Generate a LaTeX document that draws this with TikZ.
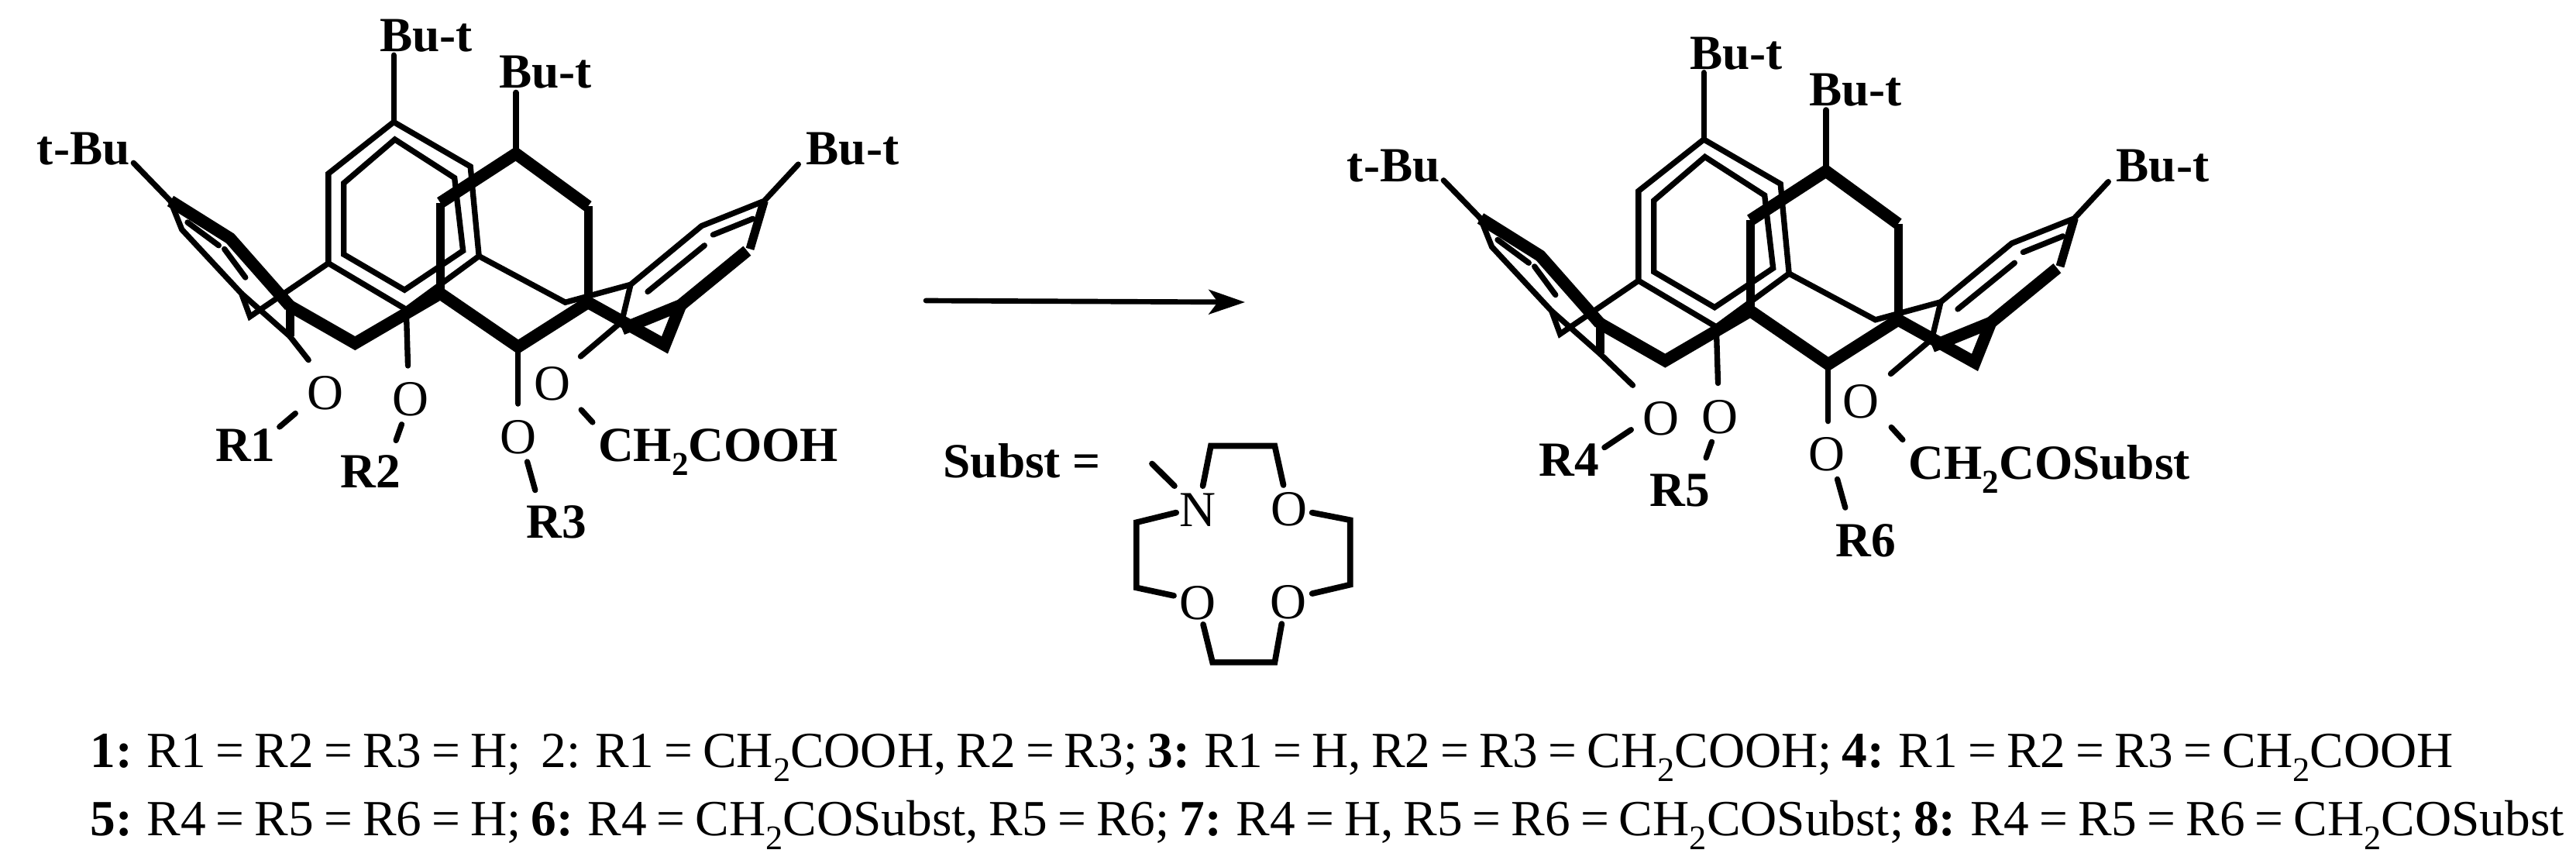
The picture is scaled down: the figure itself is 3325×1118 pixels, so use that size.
\documentclass[tikz,border=0pt]{standalone}
\usepackage{fontspec}
\setmainfont{Liberation Serif}
\usetikzlibrary{arrows.meta}
\newcommand{\subtwo}{\raisebox{-0.28em}{\scalebox{.68}{2}}}
\newcommand{\captfont}{\fontsize{19.6pt}{21pt}\selectfont\setlength{\spaceskip}{.2em}}
\tikzset{
  thinb/.style={line width=2.2pt,line cap=round,line join=miter},
  midb/.style={line width=3.3pt,line cap=butt,line join=miter},
  boldb/.style={line width=4.7pt,line cap=butt,line join=miter},
  lab/.style={font=\fontsize{19pt}{21pt}\selectfont\bfseries,inner sep=0pt,anchor=base},
  labw/.style={lab,anchor=base west},
  atom/.style={font=\fontsize{19.5pt}{21pt}\selectfont,inner sep=0pt,anchor=base},
  capt/.style={font=\captfont,inner sep=0pt,anchor=base west},
  mol/.style={x=0.22pt,y=-0.13774pt},
  crown/.style={line width=2.3pt,line cap=round,line join=miter},
}
\newcommand{\calix}{%
  \foreach \n/\x/\y in {
    a1/693/343,a2/578/488,a3/578/740,a4/715/870,a5/843/720,a6/828/468,
    i1/695/392,i2/605/515,i3/605/715,i4/712/815,i5/815/705,i6/800/500,
    at/693/155,
    b1/908/432,b2/775/570,b3/775/825,b4/912/975,b5/1035/850,b6/1035/580,bt/908/260,
    br1/625/965,br2/510/860,br3/1170/970,br4/1198/858,
    c1/1345/565,c2/1235/635,c3/1110/800,c4/1095/900,c5/1320/700,c6/1315/705,c7/1095/925,
    ci1/1255/660,ci2/1325/615,ci3/1240/690,ci4/1140/820,ct/1405/462,
    d0/995/850,d1/1090/910,
    e1/300/565,e2/320/645,e3/425/825,e4/440/890,e5/405/670,e6/510/945,
    ei1/330/625,ei2/385/690,ei3/395/700,ei4/432/780,et/235/458,
    f1/510/860,f2/510/945}
    \coordinate (\n) at (\x,\y);
  % back aryl ring
  \draw[thinb] (at) -- (a1);
  \draw[thinb] (a1) -- (a2) -- (a3) -- (a4) -- (a5) -- (a6) -- cycle;
  \draw[thinb] (i1) -- (i2) -- (i3) -- (i4) -- (i5) -- (i6) -- cycle;
  \draw[thinb] (a3) -- (e4) -- (e3) -- (e2) -- (e1) -- (et);
  \draw[thinb] (a5) -- (d0) -- (c3);
  % right aryl ring
  \draw[thinb] (ct) -- (c1) -- (c2) -- (c3) -- (c4);
  \draw[thinb] (ci1) -- (ci2);
  \draw[thinb] (ci3) -- (ci4);
  \draw[midb] (c1) -- (c5);
  \draw[boldb] (c6) -- (br4) -- (c7);
  \draw[boldb] (b5) -- (br3) -- (br4);
  % left aryl ring
  \draw[boldb] (e1) -- (e5) -- (f1);
  \draw[thinb] (ei1) -- (ei2);
  \draw[thinb] (ei3) -- (ei4);
  \draw[midb] (f1) -- (f2);
  \draw[thinb] (e3) -- (e6);
  % front ring and lower bridges
  \draw[thinb] (bt) -- (b1);
  \draw[boldb] (b2) -- (b1) -- (b6);
  \draw[midb] (b2) -- (b3);
  \draw[midb] (b6) -- (b5);
  \draw[boldb] (b3) -- (b4) -- (b5);
  \draw[boldb] (b3) -- (br1) -- (br2);
  % oxygen bonds
  \draw[thinb] (a4) -- (718,1028);
  \draw[thinb] (b4) -- (912,1135);
  \draw[thinb] (d1) -- (1022,1002);
  % stubs common to both molecules
  \draw[thinb] (707,1193) -- (697,1238);
  \draw[thinb] (928,1298) -- (942,1378);
  \draw[thinb] (1023,1152) -- (1043,1187);
  % labels
  \node[lab] (but1) at (750,145) {Bu-t};
  \node[lab] (but2) at (960,248) {Bu-t};
  \node[lab] (but3) at (147,462) {t-Bu};
  \node[labw] (but4) at (1418,462) {Bu-t};
}
\begin{document}
\begin{tikzpicture}[x=0.3pt,y=-0.3pt]
\useasboundingbox (0,0) rectangle (3325,1118);
% left molecule
\begin{scope}[mol,name prefix=L-]
  \calix
  \draw[thinb] (e6) -- (543,1012);
  \draw[thinb] (520,1162) -- (492,1200);
  \node[atom] (o1) at (572,1150) {O};
  \node[atom] (o2) at (723,1168) {O};
  \node[atom] (o3) at (912,1275) {O};
  \node[atom] (o4) at (972,1125) {O};
  \node[lab] (r1) at (432,1297) {R1};
  \node[lab] (r2) at (652,1370) {R2};
  \node[lab] (r3) at (980,1512) {R3};
  \node[labw] (ch) at (1052,1297) {CH\subtwo COOH};
\end{scope}
% right molecule
\begin{scope}[mol,shift={(507.3pt,-6.75pt)},name prefix=Q-]
  \calix
  \draw[thinb] (e6) -- (568,1034);
  \draw[thinb] (565,1159) -- (518,1209);
  \node[atom] (o1) at (618,1173) {O};
  \node[atom] (o2) at (721,1169) {O};
  \node[atom] (o3) at (910,1274) {O};
  \node[atom] (o4) at (970,1126) {O};
  \node[lab] (r4) at (456,1289) {R4};
  \node[lab] (r5) at (651,1374) {R5};
  \node[lab] (r6) at (978,1516) {R6};
  \node[labw] (ch) at (1053,1298) {CH\subtwo COSubst};
\end{scope}
% arrow
\coordinate (arrA) at (1195,388);
\coordinate (arrB) at (1607,390);
\draw[line width=2pt,line cap=round,-{Stealth[length=14pt,width=9.5pt,inset=3.5pt]}] (arrA) -- (arrB);
% crown substituent
\node[lab,anchor=base west] (subst) at (1217,616) {Subst =};
\begin{scope}[x=0.1339pt,y=-0.1148pt,shift={(345pt,-90pt)}]
  \node[atom] (N) at (888,992) {N};
  \node[atom] (Oa) at (1152,990) {O};
  \node[atom] (Ob) at (888,1305) {O};
  \node[atom] (Oc) at (1150,1303) {O};
  \draw[crown] (820,855) -- (755,780);
  \draw[crown] (902,855) -- (925,720) -- (1110,720) -- (1135,852);
  \draw[crown] (1218,945) -- (1328,970) -- (1328,1188) -- (1218,1218);
  \draw[crown] (1130,1320) -- (1110,1450) -- (930,1450) -- (903,1322);
  \draw[crown] (818,1225) -- (710,1198) -- (710,978) -- (825,945);
\end{scope}
% caption
\node[capt] (line1) at (116,990) {\textbf{1:} R1 = R2 = R3 = H;\ \ 2: R1 = CH\subtwo COOH, R2 = R3; \textbf{3:} R1 = H, R2 = R3 = CH\subtwo COOH; \textbf{4:} R1 = R2 = R3 = CH\subtwo COOH};
\node[capt] (line2) at (116,1078) {\textbf{5:} R4 = R5 = R6 = H; \textbf{6:} R4 = CH\subtwo COSubst, R5 = R6; \textbf{7:} R4 = H, R5 = R6 = CH\subtwo COSubst; \textbf{8:} R4 = R5 = R6 = CH\subtwo COSubst};
\end{tikzpicture}
\end{document}
